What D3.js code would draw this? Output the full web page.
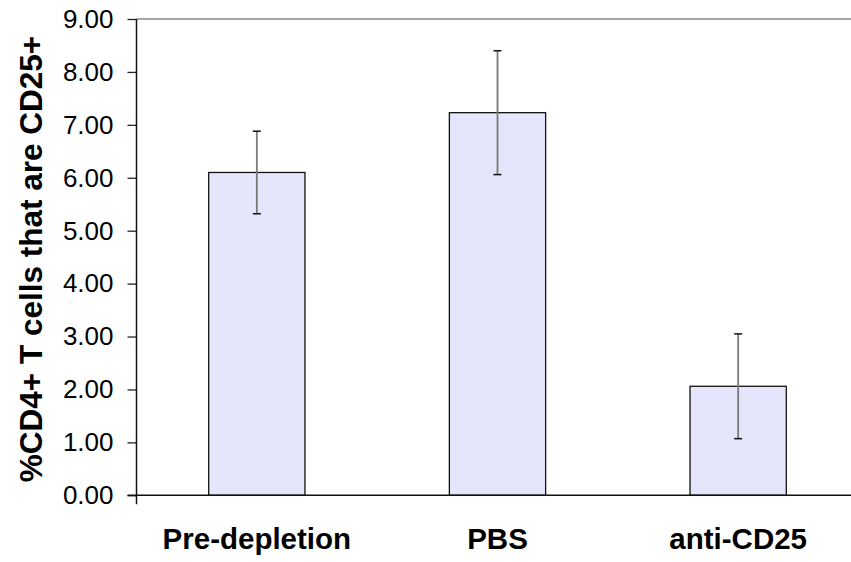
<!DOCTYPE html>
<html>
<head>
<meta charset="utf-8">
<script src="https://cdn.jsdelivr.net/npm/d3@7"></script>
<style>
  body { margin: 0; background: #fff; }
  text { font-family: "Liberation Sans", Arial, sans-serif; }
</style>
</head>
<body>
<script>
var width = 851, height = 562;

var categories = ["Pre-depletion", "PBS", "anti-CD25"];
var values = [6.10, 7.23, 2.06];
var errors = [0.78, 1.17, 0.99];
var yTicks = [0, 1, 2, 3, 4, 5, 6, 7, 8, 9];

var data = categories.map(function(c, i) {
    return {name: c, value: values[i], err: errors[i]};
});

var svg = d3.select("body")
            .append("svg")
            .attr("width", width)
            .attr("height", height);

var x = d3.scaleBand()
          .domain(categories)
          .range([136.5, 858.5])
          .paddingInner(0.6)
          .paddingOuter(0.3);

var y = d3.scaleLinear()
          .domain([0, 9])
          .range([495.3, 19]);

// top border of the plot area
svg.append("line")
   .attr("x1", x.range()[0]).attr("x2", width)
   .attr("y1", y(9)).attr("y2", y(9))
   .attr("stroke", "#8a8a8a")
   .attr("stroke-width", 1.5);

// bars
svg.selectAll("rect.bar")
   .data(data)
   .enter()
   .append("rect")
   .attr("class", "bar")
   .attr("x", function(d) { return x(d.name); })
   .attr("width", x.bandwidth())
   .attr("y", function(d) { return y(d.value); })
   .attr("height", function(d) { return y(0) - y(d.value); })
   .attr("fill", "#e5e5fb")
   .attr("stroke", "#111")
   .attr("stroke-width", 1.3);

// error bars
var eb = svg.selectAll("g.err")
            .data(data)
            .enter()
            .append("g")
            .attr("class", "err");

eb.append("line")
  .attr("x1", function(d) { return x(d.name) + x.bandwidth() / 2; })
  .attr("x2", function(d) { return x(d.name) + x.bandwidth() / 2; })
  .attr("y1", function(d) { return y(d.value + d.err); })
  .attr("y2", function(d) { return y(d.value - d.err); })
  .attr("stroke", "#7a7a7a")
  .attr("stroke-width", 1.8);

[1, -1].forEach(function(s) {
    eb.append("line")
      .attr("x1", function(d) { return x(d.name) + x.bandwidth() / 2 - 4; })
      .attr("x2", function(d) { return x(d.name) + x.bandwidth() / 2 + 4; })
      .attr("y1", function(d) { return y(d.value + s * d.err); })
      .attr("y2", function(d) { return y(d.value + s * d.err); })
      .attr("stroke", "#111")
      .attr("stroke-width", 1.5);
});

// y axis
var yAxis = d3.axisLeft(y)
              .tickValues(yTicks)
              .tickSize(9)
              .tickPadding(14)
              .tickFormat(d3.format(".2f"));

var gy = svg.append("g")
            .attr("transform", "translate(" + x.range()[0] + ",0)")
            .call(yAxis);
gy.select(".domain").remove();
gy.selectAll(".tick line").attr("stroke", "#222").attr("stroke-width", 1.3);
gy.selectAll(".tick text")
  .attr("font-family", "Liberation Sans, Arial, sans-serif")
  .attr("font-size", 26)
  .attr("fill", "#000");

svg.append("line")
   .attr("x1", x.range()[0]).attr("x2", x.range()[0])
   .attr("y1", y(9)).attr("y2", y(0) + 9)
   .attr("stroke", "#111")
   .attr("stroke-width", 1.5);

// x axis line
svg.append("line")
   .attr("x1", x.range()[0] - 9).attr("x2", width)
   .attr("y1", y(0)).attr("y2", y(0))
   .attr("stroke", "#111")
   .attr("stroke-width", 1.5);

// category labels
svg.selectAll("text.cat")
   .data(categories)
   .enter()
   .append("text")
   .attr("class", "cat")
   .attr("x", function(d) { return x(d) + x.bandwidth() / 2; })
   .attr("y", 549)
   .attr("text-anchor", "middle")
   .attr("font-size", 29.5)
   .attr("font-weight", "bold")
   .text(function(d) { return d; });

// y axis title
svg.append("text")
   .attr("transform", "translate(42,259) rotate(-90)")
   .attr("text-anchor", "middle")
   .attr("font-size", 31.5)
   .attr("font-weight", "bold")
   .text("%CD4+ T cells that are CD25+");
</script>
</body>
</html>
